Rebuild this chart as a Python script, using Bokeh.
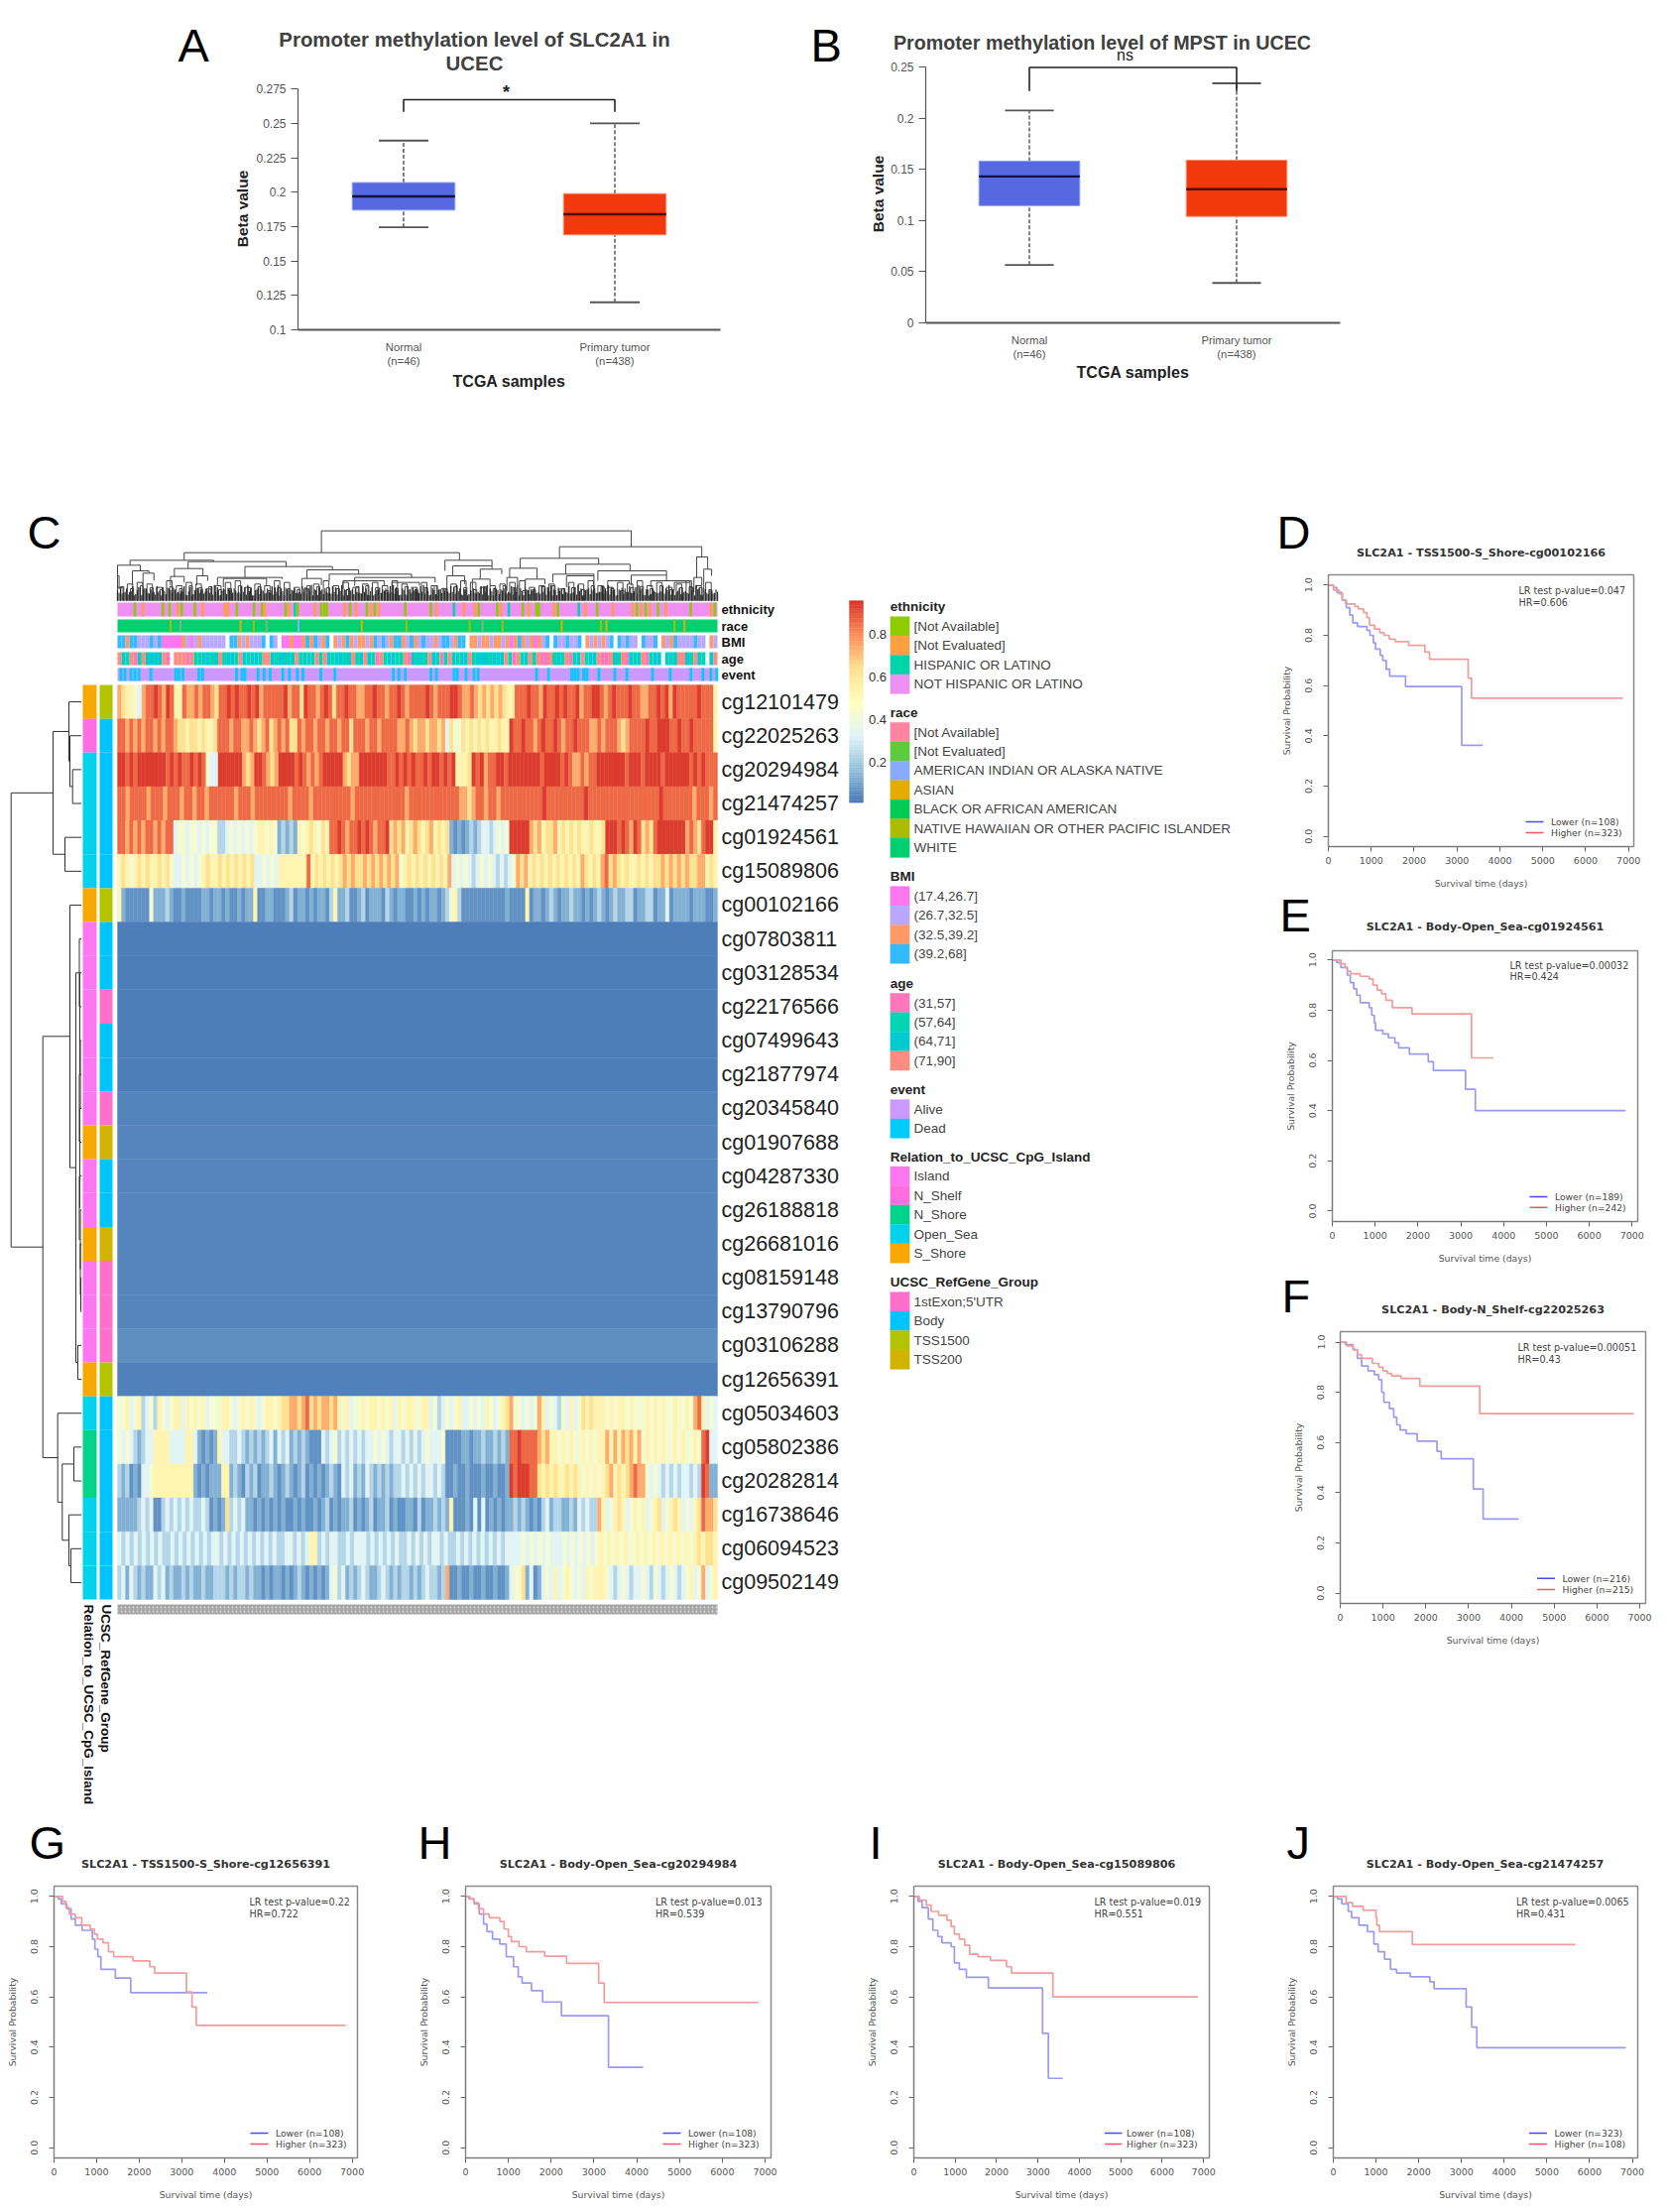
from bokeh.plotting import figure
from bokeh.layouts import row, column
from bokeh.models import Range1d, FixedTicker, NumeralTickFormatter
from bokeh.core.properties import value
from bokeh.embed import file_html
from bokeh.resources import INLINE

# ------------------------------------------------------------------ box plots
BOX_CATEGORIES = ["Normal\n(n=46)", "Primary tumor\n(n=438)"]
A_LOW = [0.1745, 0.120]; A_Q1 = [0.187, 0.169]; A_MED = [0.197, 0.184]; A_Q3 = [0.207, 0.199]; A_HIGH = [0.2375, 0.250]
B_LOW = [0.0565, 0.039]; B_Q1 = [0.1145, 0.104]; B_MED = [0.143, 0.1305]; B_Q3 = [0.158, 0.159]; B_HIGH = [0.2075, 0.234]
A_TICKS = [0.1, 0.125, 0.15, 0.175, 0.2, 0.225, 0.25, 0.275]
A_TICK_LABELS = ["0.1", "0.125", "0.15", "0.175", "0.2", "0.225", "0.25", "0.275"]
B_TICKS = [0, 0.05, 0.1, 0.15, 0.2, 0.25]
B_TICK_LABELS = ["0", "0.05", "0.1", "0.15", "0.2", "0.25"]

# ------------------------------------------------------------------ survival curves
D_LOW_T = [0,120,200,320,420,500,570,680,900,970,1050,1100,1210,1270,1350,1430,1800,3110,3600]
D_LOW_S = [1,.99,.97,.94,.91,.88,.85,.835,.82,.80,.77,.745,.72,.70,.665,.638,.596,.362,.362]
D_HIGH_T = [0,120,250,330,400,620,700,820,900,960,1080,1200,1300,1420,1560,1870,2250,2360,3260,3340,6870]
D_HIGH_S = [1,.98,.965,.94,.925,.915,.905,.89,.87,.84,.825,.81,.80,.785,.775,.76,.733,.705,.63,.55,.55]
E_LOW_T = [0,100,200,350,420,500,570,650,860,920,980,1010,1180,1310,1460,1550,1800,2240,2360,3110,3340,6850]
E_LOW_S = [1,.99,.97,.94,.91,.885,.86,.83,.81,.78,.75,.72,.705,.69,.67,.65,.625,.595,.56,.485,.40,.40]
E_HIGH_T = [0,200,300,350,430,650,860,950,1050,1150,1250,1400,1860,3250,3760]
E_HIGH_S = [1,.985,.97,.955,.945,.935,.925,.90,.88,.865,.84,.81,.785,.61,.61]
F_LOW_T = [0,120,300,400,500,650,800,900,970,1020,1150,1250,1320,1400,1540,1800,2260,2360,3110,3340,4170]
F_LOW_S = [1,.99,.97,.935,.905,.885,.87,.85,.80,.76,.735,.70,.67,.65,.635,.605,.565,.535,.415,.295,.295]
F_HIGH_T = [0,150,300,400,500,750,900,1000,1100,1200,1420,1860,3260,6860]
F_HIGH_S = [1,.985,.97,.95,.935,.915,.90,.885,.875,.865,.855,.825,.715,.715]
G_LOW_T = [0,100,170,300,400,500,660,900,960,1030,1100,1440,1800,3600]
G_LOW_S = [1,.99,.97,.95,.91,.885,.865,.83,.79,.76,.71,.675,.617,.617]
G_HIGH_T = [0,200,280,360,500,650,850,950,1020,1150,1280,1400,1850,2250,2360,3110,3240,3340,6850]
G_HIGH_S = [1,.98,.955,.93,.915,.885,.87,.85,.83,.815,.78,.76,.743,.72,.695,.62,.56,.487,.487]
H_LOW_T = [0,80,200,320,420,500,630,800,950,1120,1230,1320,1540,1800,2240,3340,4150]
H_LOW_S = [1,.99,.97,.93,.89,.86,.83,.81,.76,.72,.68,.655,.625,.58,.525,.32,.32]
H_HIGH_T = [0,100,200,300,420,550,800,900,1000,1070,1250,1420,1850,2360,3110,3240,6850]
H_HIGH_S = [1,.99,.975,.95,.93,.915,.90,.87,.84,.82,.80,.78,.762,.733,.655,.578,.578]
I_LOW_T = [0,100,200,350,460,580,680,900,980,1100,1270,1800,3110,3250,3600]
I_LOW_S = [1,.98,.955,.91,.865,.84,.815,.80,.735,.71,.678,.636,.455,.276,.276]
I_HIGH_T = [0,130,300,420,600,800,900,980,1100,1230,1350,1550,1850,2240,2360,3360,6860]
I_HIGH_S = [1,.985,.965,.94,.925,.905,.88,.85,.83,.805,.77,.76,.745,.72,.695,.60,.60]
J_LOW_T = [0,100,200,350,430,600,800,950,1050,1200,1340,1480,1800,2260,2360,3110,3240,3360,6850]
J_LOW_S = [1,.99,.97,.94,.915,.885,.86,.81,.78,.75,.71,.695,.68,.66,.633,.56,.48,.398,.398]
J_HIGH_T = [0,300,450,700,1000,1020,1080,1850,5670]
J_HIGH_S = [1,.975,.96,.945,.915,.885,.86,.808,.808]

# ------------------------------------------------------------------ heat map
CPG_NAMES = ["cg12101479","cg22025263","cg20294984","cg21474257","cg01924561","cg15089806","cg00102166",
             "cg07803811","cg03128534","cg22176566","cg07499643","cg21877974","cg20345840","cg01907688",
             "cg04287330","cg26188818","cg26681016","cg08159148","cg13790796","cg03106288","cg12656391",
             "cg05034603","cg05802386","cg20282814","cg16738646","cg06094523","cg09502149"]
# one digit per sample block, 0 (beta near 0) .. 9 (beta near 0.95)
LEVELS = [.06, .13, .23, .33, .43, .53, .63, .74, .86, .94]
H_CG12101479 = "7655437889879855877878876889898898978888897886988789868898877889887889878888987888998778767676765588898879889898897889987898889887788989798888898885"
H_CG22025263 = "887878788787887665665655688878877876786787866878878878878868887887888877876776776736446565656556559889887898898788988877878887678888988999889889888885"[:150]
H_CG20294984 = "998989999999898988989843399999976799876799998987878999997677999999988989898898998989555698978899899999999899998987787889999999899989999899999989898 8".replace(" ", "8")
H_CG21474257 = "887888878887888788788788888878887888888887888878888888887888888888888788888888888877678878878888888888988888888898888888888888888898888888788878"
H_CG01924561 = "887878788787883443443434422343434345545412121545654658898788989878896767567656756561010121233234349999976756675656565565569998987986768999999978768995"[:150]
H_CG15089806 = "565456565565643343434565565656565633434355555558565656567676676767676745656565656573434323434323234767565656565656576565786765655656566767676766 7565".replace(" ", "7")
H_CG00102166 = "510000004111210010000110110100101150011000120110101102511200120111021011001010110124520000000000010000501101210112110101210121122011220113011110111001"[:150]
H_CG05034603 = "445345234254345535454534445543454543455456677678676776754534454554545354554455342343453343435434567443434753432435346565554545545444545454454454785343"[:150]
H_CG05802386 = "434321233555533335531010153322321212123132312121000323423232323343432332323234333400001101121121218898888767554545445454557575767574545454454544548933"[:150]
H_CG20282814 = "212010334555555555510101115512102120112101210120101012103231213212121223232323323200100100010010019899988656565565654545456756567877434323232332329811"[:150]
H_CG16738646 = "111112323002323232322320101623231101010101001010010120101120101201120100110201121215000103030101011212101023122112132322753456534545345634565343568776"[:150]
H_CG06094523 = "323232323232232323232323323232323232323223323235523233223233323232323223232323323223232323232323333434343433343434343454545454454545454545454565 65".replace(" ", "6")
H_CG09502149 = "231321211323121121211211222121221211010110101210101013423121232112321212212123221270010010010010013446130134353454343545554323432334324323432345347345"[:150]
# beta of the near-uniform blue rows cg07803811 .. cg12656391
BLUE_BETA = [.02, .02, .02, .02, .02, .03, .035, .035, .035, .035, .035, .035, .055, .025]
HEAT_TOP = [H_CG12101479, H_CG22025263, H_CG20294984, H_CG21474257, H_CG01924561, H_CG15089806, H_CG00102166]
HEAT_BOTTOM = [H_CG05034603, H_CG05802386, H_CG20282814, H_CG16738646, H_CG06094523, H_CG09502149]

REL_ROWS = ["S_Shore","N_Shelf","Open_Sea","Open_Sea","Open_Sea","Open_Sea","S_Shore","Island","Island","Island","Island","Island","Island","S_Shore",
            "Island","Island","S_Shore","Island","Island","Island","S_Shore","Open_Sea","N_Shore","N_Shore","Open_Sea","Open_Sea","Open_Sea"]
REF_ROWS = ["TSS1500","Body","Body","Body","Body","Body","TSS1500","Body","Body","1stExon;5'UTR","Body","Body","1stExon;5'UTR","TSS200",
            "Body","Body","TSS200","1stExon;5'UTR","1stExon;5'UTR","1stExon;5'UTR","TSS1500","Body","Body","Body","Body","Body","Body"]

ETHNICITY_STRIPES = [(4,"a"),(6,"e"),(11,"a"),(12.7,"a"),(14.7,"e"),(15.7,"a"),(19,"a"),(21,"e"),(26.5,"e"),(27.3,"e"),(29.5,"a"),(33.8,"a"),(35.8,"a"),
    (36.5,"e"),(41.7,"a"),(42.6,"e"),(44,"h"),(44.7,"a"),(49,"e"),(50.6,"a"),(51.4,"a"),(52,"a"),(56.4,"e"),(57.8,"a"),(59.3,"e"),(62,"a"),(63,"e"),(64,"a"),
    (65,"e"),(71.6,"a"),(78,"a"),(79.4,"e"),(83.8,"h"),(86.3,"e"),(89,"e"),(90,"a"),(94.6,"a"),(95.5,"e"),(97.5,"h"),(101,"a"),(102.5,"e"),(104.4,"a"),
    (105,"a"),(108.8,"e"),(109.8,"a"),(115,"h"),(116.7,"e"),(119.6,"a"),(123.5,"e"),(128.4,"e"),(129.5,"a"),(130.5,"e"),(131.7,"a"),(132.8,"e"),(134.8,"a"),(136.8,"e"),(143,"a"),(148,"e"),(149,"a")]
RACE_STRIPES = [(13,"k"),(15.5,"w"),(30.5,"e"),(33.8,"k"),(37,"w"),(45,"b"),(60.8,"e"),(72,"k"),(87.8,"k"),(91,"w"),(96,"k"),(110.8,"e"),(120.6,"k"),(122,"e"),(139,"k"),(141.5,"e")]
EVENT_STRIPES = [.5,1.5,3,4,5,8,14.2,15,16,20,20.9,29.4,30.8,31.5,34.8,36.3,37.8,41,42.6,44.6,46,50.5,54,68.6,70,71.6,78,79.4,83.8,84.6,86.8,88.8,89.8,104.4,107.4,113.2,114,114.8,116.2,117,120,124,127,133.4,137.8,143,146,148,149.5]
BMI_STRIP = "ddcddbbbdbdaaaaacbabcbbbbbb ddcbcbbbd db aacaacdcdbcd cbcdcbccbcdbdbcddcbdcbdbbcbddbcdd ccbccbccbcacdcbcacbd dbbdbbd cbcbcbd dbdbb dbbd cbcdbbbbdbb cb"
AGE_STRIP = "sctsatsccccsa sssasttcctcstcctsctcctssctcctcstctcstsctcctcstcsctastccttsactctsctatsctccstccctcccstastcstsaastctsatcstccsaasctsactcsatcc ctcssctsct cs"

# top dendrogram, as read in the 2.53x horizontal / 3x vertical crop: left, right, merge height, child heights
TOP_L = [540,190,1147,52,200,20,58,85,165,155,222,345,275,290,503,490,560,595,625,720,855,875,860,945,925,1047,1020,1013,1060,1163,1130,1165,1245,1270,1330,1380,1440,1497,1490,1515,20]
TOP_R = [1330,892,1510,265,450,78,100,113,238,190,250,568,440,400,635,540,770,700,830,790,975,975,905,1000,970,1247,1090,1040,1110,1327,1235,1235,1420,1325,1420,1480,1480,1525,1510,1535,24]
TOP_H = [14,80,62,103,107,118,135,142,128,152,150,122,155,158,132,158,145,165,155,170,103,120,150,130,160,97,127,155,160,115,145,150,135,165,148,165,170,93,155,130,150]
TOP_C1 = [80,103,97,118,128,150,178,178,152,180,178,155,178,185,158,190,165,190,180,195,135,150,195,160,195,128,155,195,195,145,170,185,165,190,178,185,195,155,200,190,200]
TOP_C2 = [62,103,93,107,122,135,142,165,150,170,165,132,160,178,145,178,155,180,170,180,120,130,175,145,180,115,160,180,175,135,150,180,148,175,165,170,185,130,180,150,190]
TOP_SMALL = "4212403125310423014520314213024135201432104325120341203142031"
TOP_GRASS = ("5273618293746152837465192837465102938475612039485761203948576123049586712304958671"
             "3928475610293847561029384756120394857612039485761203948576132049586172039485761302"
             "49586172039485761304958671203948576")
# left dendrogram: (merge position, child, child); ints are row numbers
ROW_TREE = (10.7,
    (53, (69, 0, (70, 1, (72.7, 2, 3))), (65, 4, 5)),
    (42.7,
     (70, 6, (76, (79.5, 7, (80, 8, (80, 9, (80.5, 10, (79.5, 11, (80, 12, (80, 13, (79.5, 14, (80.5, 15, (80.5, 16, (81, 17, 18))))))))))), (78, 19, 20))),
     (57.7, 21, (62.3, (74, 22, 23), (69, 24, (71, 25, 26))))))

LEGEND_GROUPS = [
 ("ethnicity", [("[Not Available]","#8ECB00"),("[Not Evaluated]","#FF9E42"),("HISPANIC OR LATINO","#00D4A8"),("NOT HISPANIC OR LATINO","#EE90F2")]),
 ("race", [("[Not Available]","#FF85A2"),("[Not Evaluated]","#5ECB3A"),("AMERICAN INDIAN OR ALASKA NATIVE","#88AAFF"),("ASIAN","#E4AC00"),("BLACK OR AFRICAN AMERICAN","#00CC55"),("NATIVE HAWAIIAN OR OTHER PACIFIC ISLANDER","#ACBB00"),("WHITE","#00D070")]),
 ("BMI", [("(17.4,26.7]","#FF77F0"),("(26.7,32.5]","#B8A8FF"),("(32.5,39.2]","#FF9966"),("(39.2,68]","#33BBFF")]),
 ("age", [("(31,57]","#FF77BB"),("(57,64]","#00D6B4"),("(64,71]","#00CCD0"),("(71,90]","#FF8C80")]),
 ("event", [("Alive","#CC99FF"),("Dead","#00CCFF")]),
 ("Relation_to_UCSC_CpG_Island", [("Island","#FF77F0"),("N_Shelf","#FF6EE0"),("N_Shore","#00D48C"),("Open_Sea","#00D2EC"),("S_Shore","#F8A800")]),
 ("UCSC_RefGene_Group", [("1stExon;5'UTR","#FF70CC"),("Body","#00C4FF"),("TSS1500","#B4C300"),("TSS200","#D0B400")]),
]
COLORBAR_TICKS = [0.2, 0.4, 0.6, 0.8]

SANS = "Liberation Sans"
DEJA = "DejaVu Sans"
PAL = [(0x45,0x75,0xB4),(0x91,0xBF,0xDB),(0xE0,0xF3,0xF8),(0xFF,0xFF,0xBF),(0xFE,0xE0,0x90),(0xFC,0x8D,0x59),(0xD7,0x30,0x27)]
PAGE_W, PAGE_H = 1674, 2222

def beta_color(v):
    t = max(0.0, min(0.9999, v / 0.96)) * 6
    i = int(t); f = t - i
    c = [round(PAL[i][k] + (PAL[i + 1][k] - PAL[i][k]) * f) for k in range(3)]
    return "#%02x%02x%02x" % tuple(c)

def make_fig(box, frame, xr, yr):
    bx0, by0, bx1, by1 = box
    fx0, fy0, fx1, fy1 = frame
    p = figure(width=bx1 - bx0, height=by1 - by0, output_backend="svg", toolbar_location=None,
               x_range=Range1d(*xr), y_range=Range1d(*yr), frame_align=False,
               min_border_left=fx0 - bx0, min_border_right=bx1 - fx1,
               min_border_top=fy0 - by0, min_border_bottom=by1 - fy1)
    p.grid.visible = False
    p.background_fill_color = "white"
    p.border_fill_color = "white"
    return p

# text layer spanning the whole page, laid over the panels
pT = make_fig((0, 0, PAGE_W, PAGE_H), (0, 0, PAGE_W, PAGE_H), (0, PAGE_W), (PAGE_H, 0))
pT.xaxis.visible = False
pT.yaxis.visible = False
pT.outline_line_color = None
pT.background_fill_color = None
pT.border_fill_color = None
pT.margin = (-PAGE_H, 0, 0, 0)

def put(px, py, text, size, align="left", bold=False, color="#333333", font=SANS, angle=0):
    pT.text(x=[px], y=[py], text=[text], text_font=value(font), text_font_size=f"{size}px", text_align=align,
            text_baseline="middle", text_color=color, angle=angle, text_font_style="bold" if bold else "normal")

def box_panel(box, frame, y_at_bottom, px_per_unit, ticks, tick_labels, low, q1, med, q3, high,
              titles, title_size, letter, letter_x, bracket, sig, sig_xy, sig_size, beta_x, beta_y, tcga_xy):
    fx0, fy0, fx1, fy1 = frame
    xr = (-0.5, 1.5)
    yr = (y_at_bottom, y_at_bottom + (fy1 - fy0) * px_per_unit)
    p = make_fig(box, frame, xr, yr)
    xs = [0, 1]
    p.outline_line_color = None
    p.segment(xs, low, xs, q1, line_color="#222222", line_dash="4 2", line_width=1.1)
    p.segment(xs, q3, xs, high, line_color="#222222", line_dash="4 2", line_width=1.1)
    cap = 0.1175
    for arr in (low, high):
        p.segment([x - cap for x in xs], arr, [x + cap for x in xs], arr, line_color="#555555", line_width=1.8)
    p.quad(left=[x - 0.243 for x in xs], right=[x + 0.243 for x in xs], bottom=q1, top=q3,
           fill_color=["#5668E2", "#F2390E"], line_color=["#8E9BEF", "#F8906F"], line_width=1)
    p.segment([x - 0.243 for x in xs], med, [x + 0.243 for x in xs], med, line_color=["#101040", "#501008"], line_width=2.4)
    top, foot = bracket
    p.line([0, 0, 1, 1], [foot, top, top, foot], line_color="#222222", line_width=1.6)
    p.xaxis.ticker = FixedTicker(ticks=xs)
    p.xaxis.major_label_overrides = dict(zip(xs, BOX_CATEGORIES))
    p.xaxis.major_tick_line_color = None
    p.xaxis.minor_tick_line_color = None
    p.xaxis.axis_line_color = "#555555"
    p.xaxis.axis_line_width = 1.8
    p.xaxis.major_label_text_font = SANS
    p.xaxis.major_label_text_font_size = "11.3px"
    p.xaxis.major_label_text_color = "#555555"
    p.xaxis.major_label_standoff = 5
    p.yaxis.ticker = FixedTicker(ticks=ticks)
    p.yaxis.major_label_overrides = dict(zip(ticks, tick_labels))
    p.yaxis.minor_tick_line_color = None
    p.yaxis.major_tick_out = 7
    p.yaxis.major_tick_in = 0
    p.yaxis.major_tick_line_color = "#555555"
    p.yaxis.major_tick_line_width = 1.2
    p.yaxis.axis_line_color = "#555555"
    p.yaxis.axis_line_width = 1.2
    p.yaxis.major_label_text_font = SANS
    p.yaxis.major_label_text_font_size = "12px"
    p.yaxis.major_label_text_color = "#555555"
    p.yaxis.major_label_standoff = 5
    p.yaxis.major_label_orientation = "horizontal"
    p.yaxis.bounds = (ticks[0], ticks[-1])
    for (tx, ty, tt) in titles:
        put(tx, ty, tt, title_size, "center", True, "#404040")
    put(letter_x, 45, letter, 47, "left", False, "#000000")
    put(sig_xy[0], sig_xy[1], sig, sig_size, "center", sig == "*", "#222222")
    put(beta_x, beta_y, "Beta value", 15.5, "center", True, "#222222", angle=1.5708)
    put(tcga_xy[0], tcga_xy[1], "TCGA samples", 16, "center", True, "#222222")
    return p

def km_panel(box, frame, x7000, y1, y0, low, high, title, title_xy, letter, letter_xy, txt_xy, txt, leg_x, leg_labels, leg_y):
    fx0, fy0, fx1, fy1 = frame
    xr = (0, 7000 * (fx1 - fx0) / (x7000 - fx0))
    unit = (y0 - y1)
    yr = ((y0 - fy1) / unit, (y0 - fy0) / unit)
    p = make_fig(box, frame, xr, yr)
    p.step(low[0], low[1], mode="after", line_color="#9A9AF2", line_width=1.7)
    p.step(high[0], high[1], mode="after", line_color="#F29C9C", line_width=1.7)
    def dx(px): return (px - fx0) / (fx1 - fx0) * xr[1]
    def dy(py): return (y0 - py) / unit
    p.segment([dx(leg_x)] * 2, [dy(leg_y[0]), dy(leg_y[1])], [dx(leg_x + 18)] * 2, [dy(leg_y[0]), dy(leg_y[1])],
              line_color=["#4A4AE6", "#F0566A"], line_width=1.6)
    put(leg_x + 25.5, leg_y[0], leg_labels[0], 9.2, "left", False, "#444444", DEJA)
    put(leg_x + 25.5, leg_y[1], leg_labels[1], 9.2, "left", False, "#444444", DEJA)
    p.outline_line_color = "#8A8A8A"
    p.outline_line_width = 1.5
    p.xaxis.ticker = FixedTicker(ticks=[0, 1000, 2000, 3000, 4000, 5000, 6000, 7000])
    p.yaxis.ticker = FixedTicker(ticks=[0, .2, .4, .6, .8, 1])
    p.xaxis.formatter = NumeralTickFormatter(format="0")
    p.yaxis.formatter = NumeralTickFormatter(format="0.0")
    p.xaxis.bounds = (0, 7000)
    p.yaxis.bounds = (0, 1)
    p.yaxis.major_label_orientation = "vertical"
    p.xaxis.axis_label = "Survival time (days)"
    p.yaxis.axis_label = "Survival Probability"
    for ax in (p.xaxis, p.yaxis):
        ax.minor_tick_line_color = None
        ax.major_tick_in = 0
        ax.major_tick_out = 5
        ax.major_tick_line_color = "#666666"
        ax.axis_line_color = "#777777"
        ax.major_label_text_font = DEJA
        ax.major_label_text_font_size = "9.5px"
        ax.major_label_text_color = "#555555"
        ax.major_label_standoff = 5
        ax.axis_label_text_font = DEJA
        ax.axis_label_text_font_size = "9.3px"
        ax.axis_label_text_font_style = "normal"
        ax.axis_label_text_color = "#555555"
        ax.axis_label_standoff = 11
    p.yaxis.major_label_standoff = 11
    put(title_xy[0], title_xy[1], title, 11.2, "center", True, "#333333", DEJA)
    put(letter_xy[0], letter_xy[1], letter, 47, "left", False, "#000000")
    put(txt_xy[0], txt_xy[1], txt[0], 9.6, "left", False, "#444444", DEJA)
    put(txt_xy[0], txt_xy[1] + 11.7, txt[1], 9.6, "left", False, "#444444", DEJA)
    return p

# ------------------------------------------------------------------ A, B
pA = box_panel((0, 0, 790, 470), (300, 89, 726, 332), 0.1, 0.025 / 34.68, A_TICKS, A_TICK_LABELS,
               A_LOW, A_Q1, A_MED, A_Q3, A_HIGH,
               [(478, 39, "Promoter methylation level of SLC2A1 in"), (478, 63, "UCEC")], 20.4, "A", 179,
               (0.2672, 0.2585), "*", (510, 92), 18, 244, 210, (513, 384))
pB = box_panel((790, 0, 1400, 470), (933, 64, 1351, 325), 0.0, 0.05 / 51.6, B_TICKS, B_TICK_LABELS,
               B_LOW, B_Q1, B_MED, B_Q3, B_HIGH,
               [(1111, 42, "Promoter methylation level of MPST in UCEC")], 19.7, "B", 817,
               (0.2495, 0.2265), "ns", (1134, 55), 16, 885, 195, (1142, 375))

# ------------------------------------------------------------------ C
CB = (0, 470, 1282, 1835)
CF = CB
pC = make_fig(CB, CF, (CB[0], CB[2]), (CB[3], CB[1]))
pC.xaxis.visible = False
pC.yaxis.visible = False
pC.outline_line_color = None

HX0, HX1 = 118.0, 723.0
HY0, RH = 690.0, 34.15

def strip_cells(codes, colors, y0, y1, L, R, T, B, C):
    w = (HX1 - HX0) / len(codes)
    for i, ch in enumerate(codes):
        if ch == " ":
            continue
        L.append(HX0 + i * w); R.append(HX0 + (i + 1) * w); T.append(y0); B.append(y1); C.append(colors[ch])

L, R, T, B, C = [], [], [], [], []
for r, s in enumerate(HEAT_TOP):
    strip_cells(s, {d: beta_color(LEVELS[int(d)]) for d in "0123456789"}, HY0 + r * RH, HY0 + (r + 1) * RH, L, R, T, B, C)
for r, b in enumerate(BLUE_BETA):
    L.append(HX0); R.append(HX1); T.append(HY0 + (7 + r) * RH); B.append(HY0 + (8 + r) * RH); C.append(beta_color(b))
for r, s in enumerate(HEAT_BOTTOM):
    strip_cells(s, {d: beta_color(LEVELS[int(d)]) for d in "0123456789"}, HY0 + (21 + r) * RH, HY0 + (22 + r) * RH, L, R, T, B, C)
pC.quad(left=L, right=R, top=T, bottom=B, fill_color=C, line_color=C, line_width=0.4)
pC.text(x=[727] * 27, y=[HY0 + (i + .5) * RH for i in range(27)], text=CPG_NAMES, text_font=value(SANS),
        text_font_size="21.5px", text_color="#222222", text_baseline="middle")

# top annotation strips
leg = {g: dict(items) for g, items in LEGEND_GROUPS}
eth, rac, bmi, age, evt = leg["ethnicity"], leg["race"], leg["BMI"], leg["age"], leg["event"]
ROWS_Y = {"ethnicity": (607, 621), "race": (624, 637), "BMI": (640, 653), "age": (657, 670), "event": (673, 686)}
COLW = (HX1 - HX0) / 150
base_L, base_R, base_T, base_B, base_C = [], [], [], [], []
for name, col in (("ethnicity", eth["NOT HISPANIC OR LATINO"]), ("race", rac["WHITE"]), ("event", evt["Alive"])):
    y0, y1 = ROWS_Y[name]
    base_L.append(HX0); base_R.append(HX1); base_T.append(y0); base_B.append(y1); base_C.append(col)
pC.quad(left=base_L, right=base_R, top=base_T, bottom=base_B, fill_color=base_C, line_color=None)
L, R, T, B, C = [], [], [], [], []
eth_code = {"a": eth["[Not Available]"], "e": eth["[Not Evaluated]"], "h": eth["HISPANIC OR LATINO"]}
for c, k in ETHNICITY_STRIPES:
    L.append(HX0 + c * COLW); R.append(HX0 + (c + .65) * COLW); T.append(607); B.append(621); C.append(eth_code[k])
rac_code = {"e": "#E4AC00", "k": "#ACBB00", "w": "#88B080", "b": "#88AAFF"}
for c, k in RACE_STRIPES:
    L.append(HX0 + c * COLW); R.append(HX0 + (c + .5) * COLW); T.append(624); B.append(637); C.append(rac_code[k])
for c in EVENT_STRIPES:
    L.append(HX0 + c * COLW); R.append(HX0 + (c + .7) * COLW); T.append(673); B.append(686); C.append(evt["Dead"])
strip_cells(BMI_STRIP, {"a": bmi["(17.4,26.7]"], "b": bmi["(26.7,32.5]"], "c": bmi["(32.5,39.2]"], "d": bmi["(39.2,68]"]}, 640, 653, L, R, T, B, C)
strip_cells(AGE_STRIP, {"a": age["(31,57]"], "t": age["(57,64]"], "c": age["(64,71]"], "s": age["(71,90]"]}, 657, 670, L, R, T, B, C)
pC.quad(left=L, right=R, top=T, bottom=B, fill_color=C, line_color=None)
for name, (y0, y1) in ROWS_Y.items():
    pC.text(x=[727], y=[(y0 + y1) / 2], text=[name], text_font=value(SANS), text_font_size="13px",
            text_font_style="bold", text_color="#111111", text_baseline="middle")

# row side colours
rel, ref = leg["Relation_to_UCSC_CpG_Island"], leg["UCSC_RefGene_Group"]
pC.quad(left=[83] * 27, right=[97] * 27, top=[HY0 + i * RH for i in range(27)], bottom=[HY0 + (i + 1) * RH for i in range(27)],
        fill_color=[rel[k] for k in REL_ROWS], line_color=None)
pC.quad(left=[100] * 27, right=[113] * 27, top=[HY0 + i * RH for i in range(27)], bottom=[HY0 + (i + 1) * RH for i in range(27)],
        fill_color=[ref[k] for k in REF_ROWS], line_color=None)
pC.text(x=[89], y=[1617], text=["Relation_to_UCSC_CpG_Island"], angle=-1.5708, text_font=value(SANS), text_font_size="13.5px",
        text_font_style="bold", text_color="#111111", text_baseline="middle", text_align="left")
pC.text(x=[106.5], y=[1617], text=["UCSC_RefGene_Group"], angle=-1.5708, text_font=value(SANS), text_font_size="13.5px",
        text_font_style="bold", text_color="#111111", text_baseline="middle", text_align="left")
# column-name smear below the heat map
pC.quad(left=[HX0], right=[HX1], top=[1617], bottom=[1627], fill_color="#A6A6A6", line_color=None, hatch_pattern="dot", hatch_color="#D8D8D8", hatch_scale=4)

# dendrograms
xs, ys = [], []
def walk(n):
    if isinstance(n, int):
        return 81.7, HY0 + (n + .5) * RH
    x, a, b = n
    ax, ay = walk(a); bx, by = walk(b)
    xs.append([ax, x, x, bx]); ys.append([ay, ay, by, by])
    return x, (ay + by) / 2
walk(ROW_TREE)
pC.multi_line(xs, ys, line_color="#333333", line_width=1)

def zx(v): return HX0 + (v - 20) / 1530 * (HX1 - HX0)
def zy(v): return 530 + v / 3
xs, ys = [], []
for a, b, h, c1, c2 in zip(TOP_L, TOP_R, TOP_H, TOP_C1, TOP_C2):
    xs.append([zx(a), zx(a), zx(b), zx(b)]); ys.append([zy(c1), zy(h), zy(h), zy(c2)])
for i, d in enumerate(TOP_SMALL):
    a = 20 + i * 25; b = a + 14; h = 165 + int(d) * 5
    xs.append([zx(a), zx(a), zx(b), zx(b)]); ys.append([zy(225), zy(h), zy(h), zy(225)])
for i, d in enumerate(reversed(TOP_SMALL)):
    a = 28 + i * 25; b = a + 8; h = 180 + int(d) * 3
    xs.append([zx(a), zx(a), zx(b), zx(b)]); ys.append([zy(225), zy(h), zy(h), zy(225)])
pC.multi_line(xs, ys, line_color="#444444", line_width=1)
gn = len(TOP_GRASS)
gx = [zx(20 + i * 1530 / (gn - 1)) for i in range(gn)]
pC.segment(gx, [zy(178 + int(d) * 3.4) for d in TOP_GRASS], gx, [zy(226)] * gn, line_color="#2A2A2A", line_width=1.3)
gx2 = [zx(20 + (i + .5) * 1530 / (gn - 1)) for i in range(gn - 1)]
pC.segment(gx2, [zy(186 + int(d) * 2.6) for d in TOP_GRASS[::-1][:gn - 1]], gx2, [zy(226)] * (gn - 1), line_color="#2A2A2A", line_width=1.1)

# colour bar
CB_TOP, CB_BOT = 605.0, 809.0
def cb_y(b): return 639 + (0.8 - b) / 0.2 * 42.9
n = 80
bv = [0.009 + (0.958 - 0.009) * (i + .5) / n for i in range(n)]
hy = (CB_BOT - CB_TOP) / n
pC.quad(left=[856] * n, right=[870] * n, top=[cb_y(b) - hy / 2 for b in bv], bottom=[cb_y(b) + hy / 2 for b in bv],
        fill_color=[beta_color(b) for b in bv], line_color=[beta_color(b) for b in bv], line_width=.4)
pC.text(x=[875.5] * 4, y=[cb_y(b) for b in COLORBAR_TICKS], text=[f"{b:.1f}" for b in COLORBAR_TICKS], text_font=value(SANS),
        text_font_size="13px", text_color="#333333", text_baseline="middle")

# annotation legend
LEG_TITLE_Z = [60, 264, 580, 786, 991, 1120, 1362]
def ly(z): return 580 + z / 1.912
for (title, items), tz in zip(LEGEND_GROUPS, LEG_TITLE_Z):
    pC.text(x=[897.3], y=[ly(tz)], text=[title], text_font=value(SANS), text_font_size="13.5px", text_font_style="bold",
            text_color="#222222", text_baseline="middle")
    cy = [ly(tz + 37.2 * (k + 1)) for k in range(len(items))]
    pC.quad(left=[897.3] * len(items), right=[916.7] * len(items), top=[c - 9.7 for c in cy], bottom=[c + 9.7 for c in cy],
            fill_color=[c for _, c in items], line_color=[c for _, c in items], line_width=.3)
    pC.text(x=[921] * len(items), y=cy, text=[t for t, _ in items], text_font=value(SANS), text_font_size="13.5px",
            text_color="#444444", text_baseline="middle")
put(27, 536, "C", 47, "left", False, "#000000")

# ------------------------------------------------------------------ survival panels
pD = km_panel((1282, 470, 1674, 900), (1339, 579, 1647, 853), 1641.7, 589.3, 842.7, (D_LOW_T, D_LOW_S), (D_HIGH_T, D_HIGH_S),
              "SLC2A1 - TSS1500-S_Shore-cg00102166", (1493, 557), "D", (1287, 536), (1531, 595), ("LR test p-value=0.047", "HR=0.606"),
              1538, ("Lower (n=108)", "Higher (n=323)"), (828, 839))
pE = km_panel((1282, 900, 1674, 1284), (1343, 958, 1651, 1231), 1645.3, 967.3, 1220.4, (E_LOW_T, E_LOW_S), (E_HIGH_T, E_HIGH_S),
              "SLC2A1 - Body-Open_Sea-cg01924561", (1497, 934), "E", (1290, 922), (1522, 972.5), ("LR test p-value=0.00032", "HR=0.424"),
              1542, ("Lower (n=189)", "Higher (n=242)"), (1206, 1216.7))
pF = km_panel((1282, 1284, 1674, 1835), (1351, 1342, 1659, 1616), 1653, 1352.5, 1605.6, (F_LOW_T, F_LOW_S), (F_HIGH_T, F_HIGH_S),
              "SLC2A1 - Body-N_Shelf-cg22025263", (1505, 1319.5), "F", (1292, 1306), (1530, 1358), ("LR test p-value=0.00051", "HR=0.43"),
              1549.5, ("Lower (n=216)", "Higher (n=215)"), (1590.8, 1602))
BOT = (1901, 2175, 1911.3, 2164.7)
LEG_BOT = (2150, 2161)
pG = km_panel((0, 1835, 415, 2222), (54, BOT[0], 360, BOT[1]), 354.6, BOT[2], BOT[3], (G_LOW_T, G_LOW_S), (G_HIGH_T, G_HIGH_S),
              "SLC2A1 - TSS1500-S_Shore-cg12656391", (207, 1879), "G", (29, 1857), (251, 1917), ("LR test p-value=0.22", "HR=0.722"),
              252, ("Lower (n=108)", "Higher (n=323)"), LEG_BOT)
pH = km_panel((415, 1835, 870, 2222), (469, BOT[0], 777, BOT[1]), 771, BOT[2], BOT[3], (H_LOW_T, H_LOW_S), (H_HIGH_T, H_HIGH_S),
              "SLC2A1 - Body-Open_Sea-cg20294984", (623, 1879), "H", (421, 1857), (660.5, 1917), ("LR test p-value=0.013", "HR=0.539"),
              668, ("Lower (n=108)", "Higher (n=323)"), LEG_BOT)
pI = km_panel((870, 1835, 1285, 2222), (911, BOT[0], 1219, BOT[1]), 1213, BOT[2], BOT[3], (I_LOW_T, I_LOW_S), (I_HIGH_T, I_HIGH_S),
              "SLC2A1 - Body-Open_Sea-cg15089806", (1065, 1879), "I", (876, 1857), (1103, 1917), ("LR test p-value=0.019", "HR=0.551"),
              1110, ("Lower (n=108)", "Higher (n=323)"), LEG_BOT)
pJ = km_panel((1285, 1835, 1674, 2222), (1344, BOT[0], 1651, BOT[1]), 1645.5, BOT[2], BOT[3], (J_LOW_T, J_LOW_S), (J_HIGH_T, J_HIGH_S),
              "SLC2A1 - Body-Open_Sea-cg21474257", (1497, 1879), "J", (1297, 1857), (1528.5, 1917), ("LR test p-value=0.0065", "HR=0.431"),
              1541.5, ("Lower (n=323)", "Higher (n=108)"), LEG_BOT)

page = column(row(pA, pB),
              row(pC, column(pD, pE, pF)),
              row(pG, pH, pI, pJ),
              pT)
open("out.html", "w").write(file_html(page, INLINE))
